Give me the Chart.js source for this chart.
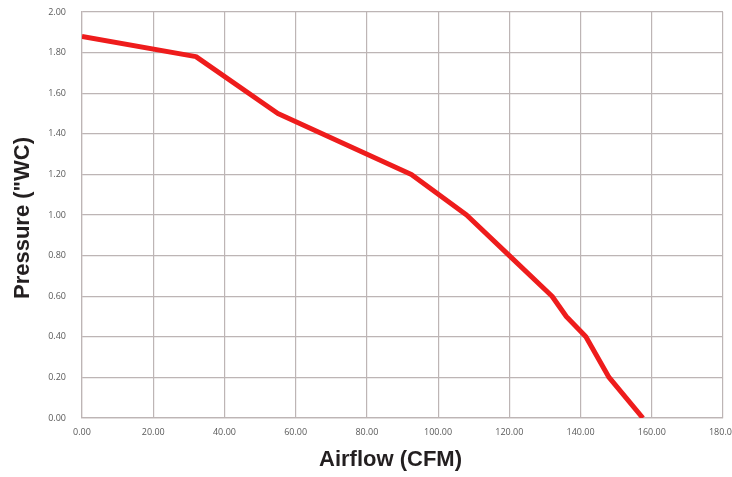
<!DOCTYPE html>
<html>
<head>
<meta charset="utf-8">
<script src="https://cdn.jsdelivr.net/npm/chart.js@4"></script>
<style>
  html, body { margin: 0; padding: 0; background: #fff; }
  #wrap { width: 732px; height: 477px; }
</style>
</head>
<body>
<div id="wrap"><canvas id="myChart" width="732" height="477"></canvas></div>
<script>
// fan curve
const airflow = [0, 32, 55, 92.5, 108, 120, 132, 136, 141.5, 148, 157.5];
const pressure = [1.88, 1.78, 1.5, 1.2, 1.0, 0.8, 0.6, 0.5, 0.4, 0.2, 0];
const xTicks = [0, 20, 40, 60, 80, 100, 120, 140, 160, 180];
const yTicks = [0, 0.2, 0.4, 0.6, 0.8, 1.0, 1.2, 1.4, 1.6, 1.8, 2.0];
const xTitle = "Airflow (CFM)";
const yTitle = "Pressure (\"WC)";

const gridColor = "#bdb5b5";
const tickFont = { family: "Open Sans", size: 9 };

// axis titles sit a little off-centre in the original, so draw them by hand
const axisTitles = {
  id: "axisTitles",
  afterDraw(chart) {
    const c = chart.ctx;
    const a = chart.chartArea;
    c.save();
    c.fillStyle = "#231f20";
    c.font = "bold 22px 'Liberation Sans', Arial, sans-serif";
    c.textAlign = "center";
    c.textBaseline = "middle";
    c.fillText(xTitle, (a.left + a.right) / 2 - 12, 460);
    c.translate(23, (a.top + a.bottom) / 2 + 3);
    c.rotate(-Math.PI / 2);
    c.fillText(yTitle, 0, 0);
    c.restore();
  },
};

const ctx = document.getElementById("myChart").getContext("2d");

new Chart(ctx, {
  type: "scatter",
  data: {
    datasets: [
      {
        data: airflow.map((x, i) => ({ x: x, y: pressure[i] })),
        borderColor: "#ee1c1c",
        backgroundColor: "#ee1c1c",
        borderWidth: 5,
        showLine: true,
        tension: 0,
        pointRadius: 0,
        borderJoinStyle: "round",
      },
    ],
  },
  options: {
    responsive: false,
    animation: false,
    layout: { padding: { left: 0, top: 12, right: 9, bottom: 0 } },
    scales: {
      x: {
        type: "linear",
        min: 0,
        max: 180,
        afterBuildTicks: (s) => { s.ticks = xTicks.map((v) => ({ value: v })); },
        afterFit: (s) => { s.height = 59; s.paddingLeft = 0; s.paddingRight = 0; },
        grid: { color: gridColor, drawTicks: false, lineWidth: 1.2 },
        border: { color: gridColor, width: 1.2 },
        ticks: {
          color: "#595959",
          font: tickFont,
          padding: 9,
          maxRotation: 0,
          autoSkip: false,
          callback: (v) => v.toFixed(2),
        },
      },
      y: {
        min: 0,
        max: 2,
        afterBuildTicks: (s) => { s.ticks = yTicks.map((v) => ({ value: v })); },
        afterFit: (s) => { s.width = 82; s.paddingTop = 0; s.paddingBottom = 0; },
        grid: { color: gridColor, drawTicks: false, lineWidth: 1.2 },
        border: { color: gridColor, width: 1.2 },
        ticks: {
          color: "#595959",
          font: tickFont,
          padding: 16,
          autoSkip: false,
          callback: (v) => v.toFixed(2),
        },
      },
    },
    plugins: {
      legend: { display: false },
      tooltip: { enabled: false },
    },
  },
  plugins: [axisTitles],
});
</script>
</body>
</html>
